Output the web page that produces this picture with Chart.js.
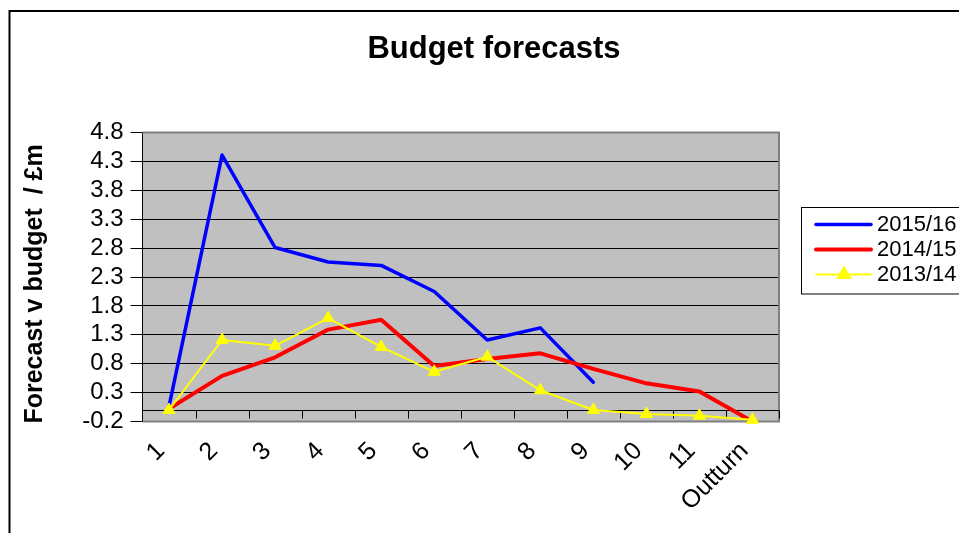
<!DOCTYPE html>
<html>
<head>
<meta charset="utf-8">
<script src="https://cdn.jsdelivr.net/npm/chart.js@4.4.1/dist/chart.umd.min.js"></script>
<style>
  body { margin: 0; background: #fff; }
  canvas { display: block; }
</style>
</head>
<body>
<canvas id="budget-chart" width="959" height="533"></canvas>
<script>
const periods = ["1", "2", "3", "4", "5", "6", "7", "8", "9", "10", "11", "Outturn"];
const seriesNames = ["2015/16", "2014/15", "2013/14"];
const forecast1516 = [0.06, 4.41, 2.81, 2.56, 2.50, 2.05, 1.21, 1.42, 0.48, null, null, null];
const forecast1415 = [0.02, 0.59, 0.91, 1.39, 1.56, 0.76, 0.88, 0.98, 0.71, 0.46, 0.32, -0.2];
const forecast1314 = [0.0, 1.21, 1.11, 1.59, 1.09, 0.66, 0.92, 0.34, 0.0, -0.07, -0.1, -0.17];
const yTicks = [-0.2, 0.3, 0.8, 1.3, 1.8, 2.3, 2.8, 3.3, 3.8, 4.3, 4.8];
const chartTitle = "Budget forecasts";
const yAxisTitle = "Forecast v budget  / £m";

const FONT = "'Liberation Sans', Arial, sans-serif";

// grey plot area + outer frame
const backdrop = {
  id: "backdrop",
  beforeDraw(chart) {
    const { ctx, chartArea: a } = chart;
    ctx.save();
    ctx.fillStyle = "#C0C0C0";
    ctx.fillRect(a.left, a.top, a.right - a.left, a.bottom - a.top);
    ctx.strokeStyle = "#000";
    ctx.lineWidth = 2;
    ctx.beginPath();
    ctx.moveTo(9.5, 533);
    ctx.lineTo(9.5, 11);
    ctx.lineTo(959, 11);
    ctx.stroke();
    ctx.restore();
  }
};

// category axis line sits at zero, plus the grey frame of the plot
const zeroAxis = {
  id: "zeroAxis",
  beforeDatasetsDraw(chart) {
    const { ctx, chartArea: a, scales } = chart;
    const y0 = Math.round(scales.y.getPixelForValue(0)) + 0.5;
    ctx.save();
    ctx.strokeStyle = "#808080";
    ctx.lineWidth = 2;
    ctx.beginPath();
    ctx.moveTo(a.left, a.top);
    ctx.lineTo(a.right, a.top);
    ctx.lineTo(a.right, a.bottom);
    ctx.lineTo(a.left, a.bottom);
    ctx.stroke();

    ctx.strokeStyle = "#000";
    ctx.lineWidth = 1;
    ctx.beginPath();
    ctx.moveTo(a.left, y0);
    ctx.lineTo(a.right, y0);
    const step = (a.right - a.left) / periods.length;
    for (let i = 1; i <= periods.length; i++) {
      const x = Math.round(a.left + step * i) + 0.5;
      ctx.moveTo(x, y0);
      ctx.lineTo(x, y0 + 8);
    }
    ctx.stroke();
    ctx.restore();
  }
};

const titleText = {
  id: "titleText",
  afterDraw(chart) {
    const ctx = chart.ctx;
    ctx.save();
    ctx.fillStyle = "#000";
    ctx.font = "bold 31px " + FONT;
    ctx.textAlign = "center";
    ctx.textBaseline = "middle";
    ctx.fillText(chartTitle, 494, 49);
    ctx.restore();
  }
};

const boxLegend = {
  id: "boxLegend",
  afterDraw(chart) {
    const ctx = chart.ctx;
    ctx.save();
    ctx.fillStyle = "#fff";
    ctx.fillRect(801, 207.5, 170, 86.5);
    ctx.strokeStyle = "#000";
    ctx.lineWidth = 1;
    ctx.strokeRect(801.5, 207.5, 170, 86.5);
    chart.data.datasets.forEach((ds, i) => {
      const y = 224.5 + i * 25;
      ctx.strokeStyle = ds.borderColor;
      ctx.lineWidth = ds.borderWidth;
      ctx.lineCap = "round";
      ctx.beginPath();
      ctx.moveTo(816, y);
      ctx.lineTo(871, y);
      ctx.stroke();
      if (ds.pointRadius > 0) {
        Chart.helpers.drawPoint(ctx, {
          pointStyle: "triangle",
          radius: ds.pointRadius,
          borderWidth: 1
        }, 844, y);
        ctx.fillStyle = ds.pointBackgroundColor;
        ctx.fill();
      }
      ctx.fillStyle = "#000";
      ctx.font = "22px " + FONT;
      ctx.textAlign = "left";
      ctx.textBaseline = "middle";
      ctx.fillText(ds.label, 877, y);
    });
    ctx.restore();
  }
};

const ctx = document.getElementById("budget-chart").getContext("2d");
new Chart(ctx, {
  type: "line",
  data: {
    labels: periods,
    datasets: [
      {
        label: seriesNames[0],
        data: forecast1516,
        borderColor: "#0000FF",
        borderWidth: 3.5,
        pointRadius: 0,
        order: 3
      },
      {
        label: seriesNames[1],
        data: forecast1415,
        borderColor: "#FF0000",
        borderWidth: 4,
        pointRadius: 0,
        order: 2
      },
      {
        label: seriesNames[2],
        data: forecast1314,
        borderColor: "#FFFF00",
        borderWidth: 2,
        pointStyle: "triangle",
        pointRadius: 7,
        pointBackgroundColor: "#FFFF00",
        pointBorderColor: "#FFFF00",
        pointBorderWidth: 1,
        order: 1
      }
    ]
  },
  options: {
    responsive: false,
    animation: false,
    layout: { padding: { top: 132.5, right: 180, bottom: 0, left: 0 } },
    elements: {
      line: { tension: 0, borderJoinStyle: "round", borderCapStyle: "round", fill: false },
      point: { hoverRadius: 0 }
    },
    datasets: { line: { clip: false } },
    plugins: {
      legend: { display: false },
      title: { display: false },
      tooltip: { enabled: false }
    },
    scales: {
      x: {
        type: "category",
        offset: true,
        grid: { display: false, drawTicks: false, offset: true },
        border: { display: false },
        ticks: {
          color: "#000",
          font: { family: FONT, size: 25 },
          minRotation: 45,
          maxRotation: 45,
          autoSkip: false,
          padding: 15,
          labelOffset: -8
        },
        afterFit(scale) { scale.height = 111.5; }
      },
      y: {
        min: -0.2,
        max: 4.8,
        afterBuildTicks(scale) {
          scale.ticks = yTicks.map((v) => ({ value: v }));
        },
        grid: { color: "#000", lineWidth: 1, tickLength: 12 },
        border: { color: "#000", width: 1 },
        ticks: {
          color: "#000",
          font: { family: FONT, size: 24 },
          padding: 7,
          autoSkip: false,
          callback: (v) => Number(v).toFixed(1)
        },
        title: {
          display: true,
          text: yAxisTitle + "\u00a0\u00a0",
          color: "#000",
          font: { family: FONT, size: 25, weight: "bold" },
          padding: { top: 20, bottom: 0 }
        },
        afterFit(scale) { scale.width = 142.5; }
      }
    }
  },
  plugins: [backdrop, zeroAxis, titleText, boxLegend]
});
</script>
</body>
</html>
